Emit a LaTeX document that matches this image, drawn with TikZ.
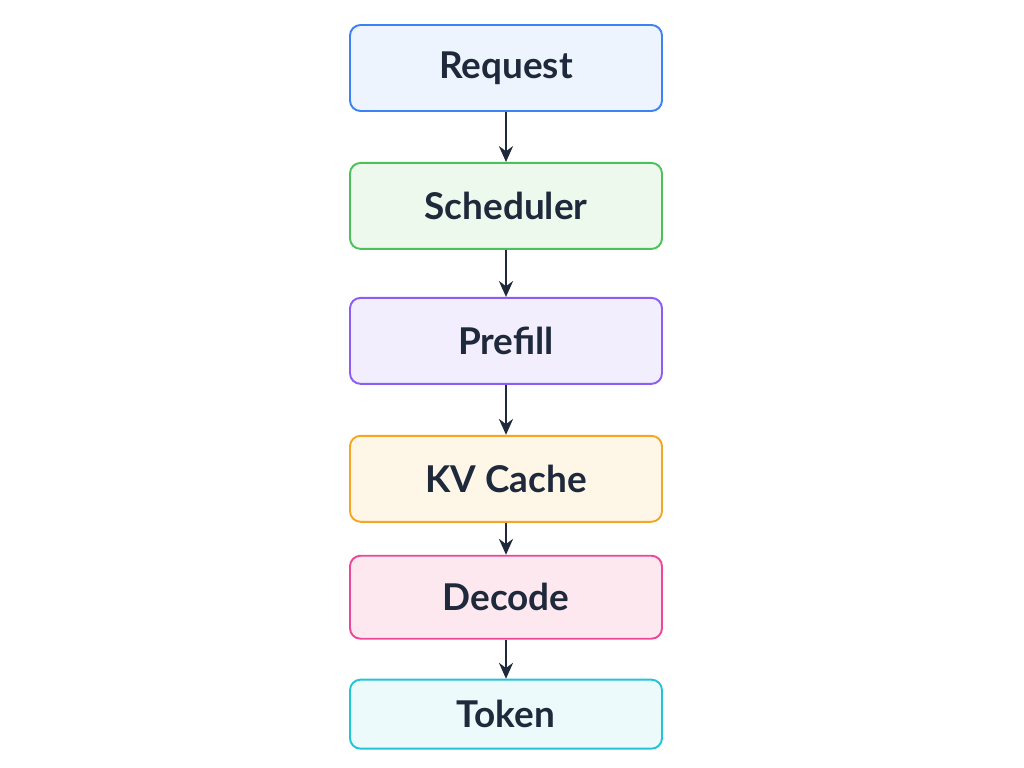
\documentclass[tikz,border=0pt]{standalone}
\usepackage{fontspec}
\setmainfont{Lato}
\usetikzlibrary{positioning,arrows.meta}
\definecolor{reqline}{HTML}{3B82F6}\definecolor{reqfill}{HTML}{EEF4FE}
\definecolor{schline}{HTML}{4CC15A}\definecolor{schfill}{HTML}{EEF9EE}
\definecolor{preline}{HTML}{8B5CF6}\definecolor{prefill}{HTML}{F3EEFD}
\definecolor{kvline}{HTML}{F5A623}\definecolor{kvfill}{HTML}{FEF6E7}
\definecolor{decline}{HTML}{EC4899}\definecolor{decfill}{HTML}{FDE8EF}
\definecolor{tokline}{HTML}{22C5D8}\definecolor{tokfill}{HTML}{ECFAFB}
\definecolor{ink}{HTML}{1E293B}
\begin{document}
\begin{tikzpicture}[
    stage/.style={draw,rounded corners=6pt,line width=1.1pt,minimum width=6.24cm,
      minimum height=1.72cm,font=\fontsize{21}{24}\selectfont\bfseries,text=ink},
    flow/.style={-{Stealth[length=9pt,width=8pt]},line width=1.3pt,ink}
    ]

    \useasboundingbox (0,0) rectangle (20.48,15.36);

    \node (request) [stage,draw=reqline,fill=reqfill] at (10.12,14.0) {Request};
    \node (scheduler) [stage,draw=schline,fill=schfill,below=1.0cm of request] {Scheduler};
    \node (prefill) [stage,draw=preline,fill=prefill,below=0.94cm of scheduler] {Prefill};
    \node (kvcache) [stage,draw=kvline,fill=kvfill,below=1.0cm of prefill] {KV Cache};
    \node (decode) [stage,draw=decline,fill=decfill,minimum height=1.66cm,below=0.64cm of kvcache] {Decode};
    \node (token) [stage,draw=tokline,fill=tokfill,minimum height=1.38cm,below=0.78cm of decode] {Token};

    \draw[flow] (request) -- (scheduler);
    \draw[flow] (scheduler) -- (prefill);
    \draw[flow] (prefill) -- (kvcache);
    \draw[flow] (kvcache) -- (decode);
    \draw[flow] (decode) -- (token);

  \end{tikzpicture}
\end{document}
